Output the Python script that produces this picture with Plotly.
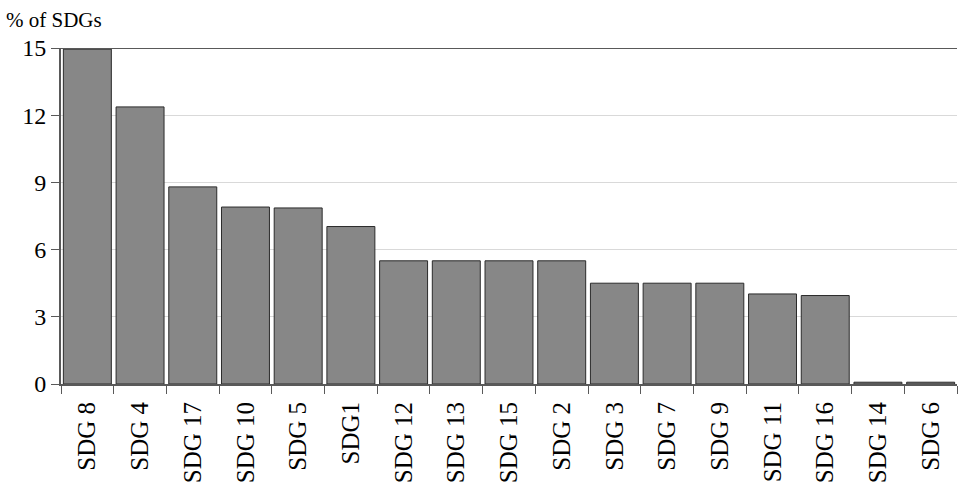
import plotly.graph_objects as go

categories = ["SDG 8", "SDG 4", "SDG 17", "SDG 10", "SDG 5", "SDG1", "SDG 12", "SDG 13",
              "SDG 15", "SDG 2", "SDG 3", "SDG 7", "SDG 9", "SDG 11", "SDG 16", "SDG 14", "SDG 6"]
values = [14.95, 12.37, 8.8, 7.9, 7.86, 7.03, 5.5, 5.5, 5.5, 5.5, 4.5, 4.5, 4.5, 4.02, 3.95, 0.08, 0.08]
y_ticks = [0, 3, 6, 9, 12, 15]

FONT = "Liberation Serif, DejaVu Serif, serif"

fig = go.Figure(go.Bar(
    x=categories, y=values,
    marker=dict(color="#878787", line=dict(color="#2b2b2b", width=1)),
))

fig.update_layout(
    width=958, height=492,
    margin=dict(l=61, r=1, t=48, b=108),
    paper_bgcolor="white", plot_bgcolor="white",
    bargap=0.09,
    showlegend=False,
    font=dict(family=FONT, color="black", size=22),
    xaxis=dict(
        type="category", tickangle=-90, showgrid=False, automargin=False,
        showline=True, linecolor="#595959", linewidth=2,
        ticks="outside", tickson="boundaries", ticklen=8, tickcolor="#595959", tickwidth=1,
        ticklabelstandoff=6,
        tickfont=dict(family=FONT, size=25, color="black"),
    ),
    yaxis=dict(
        range=[0, 15], tickvals=y_ticks, showgrid=True, gridcolor="#d9d9d9", gridwidth=1,
        showline=True, linecolor="#595959", linewidth=2, automargin=False,
        ticks="outside", ticklen=8, tickcolor="#595959",
        tickfont=dict(family=FONT, size=24, color="black"),
        zeroline=False,
    ),
    shapes=[dict(type="line", xref="paper", yref="y", x0=0, x1=1, y0=15, y1=15,
                 line=dict(color="#595959", width=2))],
    annotations=[dict(text="% of SDGs", xref="paper", yref="paper", x=0, y=1,
                      xshift=-57, yshift=14, xanchor="left", yanchor="bottom",
                      showarrow=False, font=dict(family=FONT, size=21, color="black"))],
)

fig.write_html("out.html", config={"displayModeBar": False},
               post_script="document.body.style.margin='0';document.body.style.overflow='hidden';")
